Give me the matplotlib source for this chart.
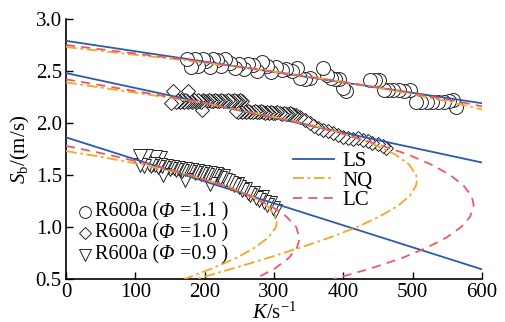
import numpy as np
import matplotlib.pyplot as plt
from matplotlib.lines import Line2D
from matplotlib.offsetbox import TextArea, HPacker, VPacker, DrawingArea, AnchoredOffsetbox

plt.rcParams['font.family'] = ['Liberation Serif', 'DejaVu Serif']
plt.rcParams['mathtext.fontset'] = 'custom'
plt.rcParams['mathtext.rm'] = 'Liberation Serif'
plt.rcParams['mathtext.it'] = 'Liberation Serif:italic'
plt.rcParams['mathtext.bf'] = 'Liberation Serif:bold'

# measured points, Phi = 1.1 (circles)
k11 = [175, 180, 186, 191, 197, 202, 207, 212, 218, 224, 230, 236, 244, 250, 256, 263, 270, 276,
       282, 290, 296, 303, 311, 318, 326, 333, 338, 345, 352, 371, 376, 382, 388, 394, 400, 404,
       438, 445, 452, 458, 465, 472, 480, 488, 496, 505, 512, 520, 528, 536, 545, 553, 558, 562]
sb11 = [2.62, 2.54, 2.62, 2.55, 2.62, 2.60, 2.54, 2.62, 2.61, 2.55, 2.62, 2.58, 2.53, 2.57, 2.52, 2.57, 2.56, 2.50,
        2.59, 2.55, 2.49, 2.54, 2.51, 2.52, 2.50, 2.53, 2.43, 2.42, 2.43, 2.53, 2.46, 2.43, 2.42, 2.42, 2.34, 2.31,
        2.41, 2.41, 2.41, 2.32, 2.32, 2.32, 2.32, 2.31, 2.32, 2.20, 2.20, 2.20, 2.20, 2.20, 2.20, 2.21, 2.22, 2.15]

# Phi = 1.0 (diamonds)
k10 = [151, 154, 176, 196,
       158, 160, 162, 164, 166, 168, 170, 172, 174, 176, 178, 180, 182, 184, 186, 188, 190, 192, 194, 196, 198, 200,
       203, 206, 209, 212, 215, 218, 221, 224, 227, 230, 233, 236, 239, 242, 245, 248, 251, 254,
       245, 248, 251, 254, 257, 260, 263, 266, 269, 272, 275, 278, 281, 284, 287, 290, 293, 296, 299, 302,
       305, 308, 311, 314, 317, 320, 323, 326, 329, 332,
       338, 345, 352, 358, 364, 371, 378, 385, 392, 400, 407, 414, 421, 428, 435, 442, 450, 457, 462]
sb10 = [2.19, 2.31, 2.31, 2.125,
        2.20, 2.22, 2.21, 2.20, 2.22, 2.21, 2.20, 2.22, 2.21, 2.20, 2.22, 2.21, 2.20, 2.22, 2.21, 2.20, 2.22, 2.21, 2.20, 2.21, 2.22, 2.21,
        2.21, 2.22, 2.21, 2.21, 2.22, 2.21, 2.21, 2.22, 2.21, 2.21, 2.22, 2.21, 2.21, 2.22, 2.21, 2.21, 2.22, 2.21,
        2.12, 2.11, 2.12, 2.11, 2.12, 2.11, 2.12, 2.11, 2.11, 2.12, 2.11, 2.11, 2.12, 2.11, 2.10, 2.11, 2.10, 2.11, 2.10, 2.10,
        2.11, 2.10, 2.09, 2.10, 2.09, 2.09, 2.10, 2.09, 2.08, 2.08,
        2.06, 2.03, 2.00, 1.97, 1.95, 1.93, 1.92, 1.90, 1.88, 1.87, 1.86, 1.85, 1.86, 1.84, 1.83, 1.81, 1.80, 1.78, 1.76]

# Phi = 0.9 (triangles)
k09 = [107, 115, 128, 136, 107, 113,
       120, 123, 126, 129, 132, 135, 138, 141, 144, 147, 150, 153, 156, 159, 162, 165, 168, 171, 174, 177,
       180, 183, 186, 189, 192, 195, 198, 201, 204, 207, 210, 213, 216,
       140, 172, 208,
       218, 222, 226, 230, 234, 238, 242, 246, 250, 254, 258, 262, 266, 270, 274, 278, 282, 286, 290, 294, 298, 302]
sb09 = [1.68, 1.68, 1.67, 1.66, 1.60, 1.59,
        1.61, 1.59, 1.61, 1.60, 1.58, 1.60, 1.59, 1.57, 1.59, 1.58, 1.56, 1.58, 1.57, 1.55, 1.57, 1.56, 1.54, 1.56, 1.55, 1.53,
        1.55, 1.54, 1.52, 1.54, 1.53, 1.51, 1.53, 1.52, 1.50, 1.52, 1.51, 1.49, 1.51,
        1.50, 1.45, 1.41,
        1.50, 1.47, 1.49, 1.45, 1.44, 1.42, 1.40, 1.41, 1.38, 1.36, 1.37, 1.33, 1.31, 1.33, 1.28, 1.26, 1.29, 1.24, 1.21, 1.23, 1.18, 1.15]

phi_labels = ['1.1', '1.0', '0.9']

# LS fits (straight lines)
ls_k = [0, 600]
ls11 = [2.79, 2.19]
ls10 = [2.48, 1.62]
ls09 = [1.862, 0.593]

# NQ fits
nq11_k = [0, 176, 293, 395, 483, 556, 588, 600]
nq11_s = [2.73, 2.60, 2.50, 2.40, 2.30, 2.20, 2.15, 2.13]
nq10_k = [0, 193, 343, 399, 442, 474, 495, 505, 506, 505, 496, 478, 452, 420, 381, 337, 290, 240, 188]
nq10_s = [2.39, 2.2, 2.0, 1.9, 1.8, 1.7, 1.6, 1.5, 1.45, 1.4, 1.3, 1.2, 1.1, 1.0, 0.9, 0.8, 0.7, 0.6, 0.5]
nq09_k = [0, 46, 110, 177, 229, 267, 291, 302, 304, 303, 292, 272, 245, 210, 171]
nq09_s = [1.73, 1.68, 1.6, 1.5, 1.4, 1.3, 1.2, 1.1, 1.05, 1.0, 0.9, 0.8, 0.7, 0.6, 0.5]

# LC fits
lc11_k = [0, 184, 294, 396, 488, 570, 600]
lc11_s = [2.75, 2.60, 2.50, 2.40, 2.30, 2.20, 2.16]
lc10_k = [0, 194, 337, 397, 448, 492, 527, 554, 573, 585, 588, 583, 570, 549, 520, 484, 439, 386]
lc10_s = [2.42, 2.2, 2.0, 1.9, 1.8, 1.7, 1.6, 1.5, 1.4, 1.3, 1.21, 1.1, 1.0, 0.9, 0.8, 0.7, 0.6, 0.5]
lc09_k = [0, 58, 122, 179, 226, 265, 296, 318, 332, 337, 333, 321, 301, 272]
lc09_s = [1.78, 1.7, 1.6, 1.5, 1.4, 1.3, 1.2, 1.1, 1.0, 0.89, 0.8, 0.7, 0.6, 0.5]

c_ls = '#2a5caa'
c_nq = '#f5a623'
c_lc = '#ec5a62'

fig = plt.figure(figsize=(5.05, 3.22), dpi=100)
ax = fig.add_axes([0.1307, 0.1335, 0.8238, 0.8075])

# markers, drawn from high K to low K (white fill)
mk = dict(linestyle='none', markerfacecolor='white', markeredgecolor='#222222', markeredgewidth=0.7)
series = [(k11, sb11, 'o', 10), (k10, sb10, 'D', 7), (k09, sb09, 'v', 9.5)]
for k, s, m, ms in series:
    o = np.argsort(k, kind='stable')[::-1]
    ax.plot(np.array(k)[o], np.array(s)[o], marker=m, markersize=ms, **mk)

lw = 1.3
for s in (ls11, ls10, ls09):
    ax.plot(ls_k, s, color=c_ls, lw=lw, zorder=4)
for k, s in ((nq11_k, nq11_s), (nq10_k, nq10_s), (nq09_k, nq09_s)):
    ax.plot(k, s, color=c_nq, lw=lw, dashes=(6, 2, 1.5, 2), zorder=5)
for k, s in ((lc11_k, lc11_s), (lc10_k, lc10_s), (lc09_k, lc09_s)):
    ax.plot(k, s, color=c_lc, lw=lw, dashes=(5, 3.5), zorder=6)

ax.set_xlim(0, 600)
ax.set_ylim(0.5, 3.0)
ax.set_xticks(range(0, 601, 100))
ax.set_yticks([0.5, 1.0, 1.5, 2.0, 2.5, 3.0])
ax.set_yticklabels(['0.5', '1.0', '1.5', '2.0', '2.5', '3.0'])
ax.tick_params(direction='in', length=5, width=1, labelsize=15, pad=3)
for sp in ('top', 'right'):
    ax.spines[sp].set_visible(False)
for sp in ('left', 'bottom'):
    ax.spines[sp].set_linewidth(1.2)

ax.set_xlabel(r'$K$/s$^{-1}$', fontsize=15, labelpad=0)
ax.set_ylabel(r'$S_{\mathrm{b}}$/(m/s)', fontsize=15, labelpad=3)

line_h = [Line2D([], [], color=c_ls, lw=lw),
          Line2D([], [], color=c_nq, lw=lw, dashes=(6, 2, 1.5, 2)),
          Line2D([], [], color=c_lc, lw=lw, dashes=(5, 3.5))]
ax.legend(line_h, ['LS', 'NQ', 'LC'], loc='upper left', bbox_to_anchor=(0.545, 0.49),
          frameon=False, fontsize=15, handlelength=2.0, handletextpad=0.4,
          labelspacing=0.0, borderaxespad=0, borderpad=0)

# marker legend with italic Phi
fs = 14.5
rows = []
for (k, s, m, ms), phi in zip(series, phi_labels):
    da = DrawingArea(10, 10, 0, 0)
    da.add_artist(Line2D([5], [5], marker=m, markersize=ms * 0.85, linestyle='none',
                         markerfacecolor='white', markeredgecolor='#222222', markeredgewidth=0.7))
    txt = HPacker(children=[TextArea('R600a (', textprops=dict(fontsize=fs)),
                            TextArea('Φ', textprops=dict(fontsize=fs, style='italic')),
                            TextArea(' =' + phi + ' )', textprops=dict(fontsize=fs))],
                  pad=0, sep=0, align='baseline')
    rows.append(HPacker(children=[da, txt], pad=0, sep=2, align='center'))
box = AnchoredOffsetbox(loc='upper left', child=VPacker(children=rows, pad=0, sep=1.5, align='left'),
                        bbox_to_anchor=(0.03, 0.295), bbox_transform=ax.transAxes,
                        frameon=False, pad=0, borderpad=0)
ax.add_artist(box)

fig.savefig('out.png', dpi=100)
